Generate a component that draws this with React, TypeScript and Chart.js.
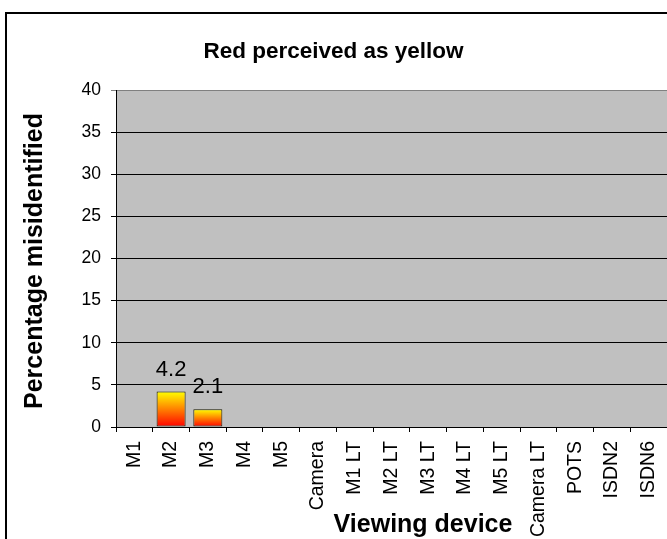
import React, { useEffect, useRef } from "react";
import { Chart, registerables } from "chart.js";

Chart.register(...registerables);

const categories = [
  "M1", "M2", "M3", "M4", "M5", "Camera",
  "M1 LT", "M2 LT", "M3 LT", "M4 LT", "M5 LT", "Camera LT",
  "POTS", "ISDN2", "ISDN6",
];
const values = [0, 4.2, 2.1, 0, 0, 0, 0, 0, 0, 0, 0, 0, 0, 0, 0];
const yMin = 0;
const yMax = 40;
const yStep = 5;
const chartTitle = "Red perceived as yellow";
const xTitle = "Viewing device";
const yTitle = "Percentage misidentified";

const FONT = '"Liberation Sans", Arial, Helvetica, sans-serif';

const decor = {
  id: "decor",
  beforeDraw(chart: any) {
    const { ctx, chartArea: a, width, height } = chart;
    ctx.save();
    ctx.fillStyle = "#ffffff";
    ctx.fillRect(0, 0, width, height);
    ctx.fillStyle = "#C0C0C0";
    ctx.fillRect(a.left, a.top, a.right - a.left, a.bottom - a.top);
    ctx.strokeStyle = "#000000";
    ctx.lineWidth = 2;
    ctx.strokeRect(6, 13, width + 40, height + 40);
    ctx.restore();
  },
  afterDatasetsDraw(chart: any) {
    const { ctx } = chart;
    const meta = chart.getDatasetMeta(0);
    ctx.save();
    ctx.fillStyle = "#000000";
    ctx.font = `22px ${FONT}`;
    ctx.textAlign = "center";
    ctx.textBaseline = "alphabetic";
    meta.data.forEach((el: any, i: number) => {
      const v = values[i];
      if (!v) return;
      ctx.fillText(v.toFixed(1), el.x, el.y - 16);
    });
    ctx.restore();
  },
  afterDraw(chart: any) {
    const { ctx } = chart;
    ctx.save();
    ctx.fillStyle = "#000000";
    ctx.font = `bold 25px ${FONT}`;
    ctx.textAlign = "center";
    ctx.textBaseline = "middle";
    ctx.fillText(xTitle, 423, 525);
    ctx.translate(35, 261);
    ctx.rotate(-Math.PI / 2);
    ctx.fillText(yTitle, 0, 0);
    ctx.restore();
  },
};

export default function App() {
  const ref = useRef<HTMLCanvasElement | null>(null);

  useEffect(() => {
    if (!ref.current) return;
    const chart = new Chart(ref.current, {
      type: "bar",
      data: {
        labels: categories,
        datasets: [
          {
            data: values,
            backgroundColor: (c: any) => {
              const ch = c.chart;
              if (!ch.chartArea) return "#FF0000";
              const ys = ch.scales.y;
              const v = typeof c.raw === "number" ? c.raw : 0;
              const top = ys.getPixelForValue(v);
              const bot = ys.getPixelForValue(0);
              if (!(bot > top)) return "#FF0000";
              const g = ch.ctx.createLinearGradient(0, top, 0, bot);
              g.addColorStop(0, "#FFFF00");
              g.addColorStop(1, "#FF0000");
              return g;
            },
            borderColor: "#1a1a00",
            borderWidth: 1,
            borderSkipped: false,
            barPercentage: 0.79,
            categoryPercentage: 1,
          },
        ],
      },
      options: {
        responsive: false,
        animation: false,
        events: [],
        layout: { padding: { left: 0, right: 0, top: 0, bottom: 0 } },
        plugins: {
          legend: { display: false },
          tooltip: { enabled: false },
          title: {
            display: true,
            text: chartTitle,
            color: "#000000",
            font: { family: FONT, size: 22.5, weight: "bold" },
            padding: { top: 38.5, bottom: 24.5 },
          },
        },
        scales: {
          x: {
            offset: true,
            grid: {
              offset: true,
              drawOnChartArea: false,
              drawTicks: true,
              tickLength: 5,
              color: "#000000",
            },
            border: { color: "#000000", width: 1 },
            ticks: {
              autoSkip: false,
              maxRotation: 90,
              minRotation: 90,
              padding: 9,
              color: "#000000",
              font: { family: FONT, size: 19.5 },
            },
            afterFit: (s: any) => {
              s.height = 112;
              s.paddingLeft = 0;
              s.paddingRight = 0;
            },
          },
          y: {
            min: yMin,
            max: yMax,
            ticks: {
              stepSize: yStep,
              padding: 10,
              color: "#000000",
              font: { family: FONT, size: 17.5 },
            },
            grid: {
              color: (c: any) => (c.tick && c.tick.value === yMax ? "#808080" : "#000000"),
              lineWidth: 1,
              tickLength: 5,
              drawTicks: true,
            },
            border: { color: "#000000", width: 1 },
            afterFit: (s: any) => {
              s.width = 116;
            },
          },
        },
      },
      plugins: [decor],
    } as any);
    return () => chart.destroy();
  }, []);

  return (
    <div style={{ position: "fixed", left: 0, top: 0, width: 667, height: 539, overflow: "hidden", background: "#fff" }}>
      <canvas ref={ref} width={667} height={539} style={{ display: "block", width: 667, height: 539 }} />
    </div>
  );
}
